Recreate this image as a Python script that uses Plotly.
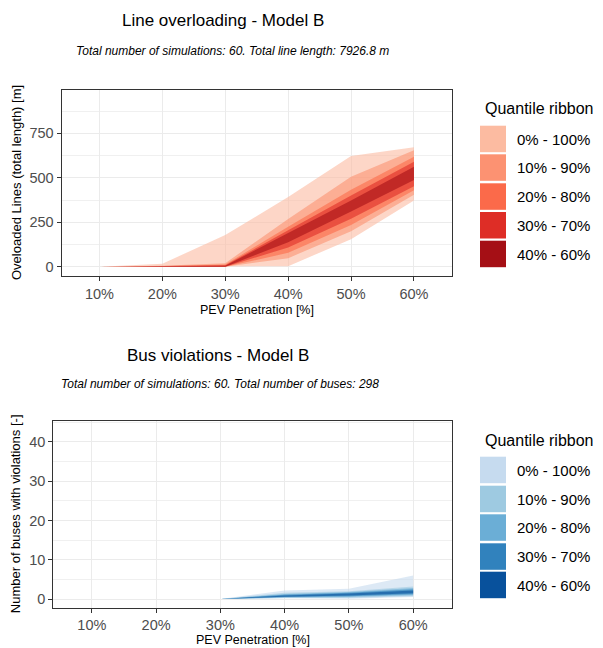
import plotly.graph_objects as go

# page body has an 8px default margin; design coordinates below are page pixels
OFF = 8
W, H = 603 - OFF, 648 - OFF

# ---------------- data ----------------
categories = ["10%", "20%", "30%", "40%", "50%", "60%"]
quantile_labels = ["0% - 100%", "10% - 90%", "20% - 80%", "30% - 70%", "40% - 60%"]

# Line overloading (total length, m) - quantile ribbons
line_lo_0_100 = [0, 0, 0, 3, 155, 372]
line_hi_0_100 = [0, 17, 178, 392, 622, 671]
line_lo_10_90 = [0, 0, 0, 48, 200, 405]
line_hi_10_90 = [0, 6, 20, 268, 505, 655]
line_lo_20_80 = [0, 0, 0, 78, 235, 430]
line_hi_20_80 = [0, 3, 12, 225, 432, 618]
line_lo_30_70 = [0, 0, 0, 108, 270, 452]
line_hi_30_70 = [0, 2, 8, 205, 400, 590]
line_lo_40_60 = [0, 0, 0, 138, 310, 487]
line_hi_40_60 = [0, 1, 5, 190, 372, 562]

# Bus violations (number of buses) - quantile ribbons
bus_lo_0_100 = [0, 0, 0, 0.2, 0.1, 0.5]
bus_hi_0_100 = [0, 0, 0, 2.2, 2.6, 6.0]
bus_lo_10_90 = [0, 0, 0, 0.3, 0.3, 0.7]
bus_hi_10_90 = [0, 0, 0, 1.6, 2.0, 3.2]
bus_lo_20_80 = [0, 0, 0, 0.4, 0.5, 1.0]
bus_hi_20_80 = [0, 0, 0, 1.3, 1.8, 2.8]
bus_lo_30_70 = [0, 0, 0, 0.5, 0.7, 1.2]
bus_hi_30_70 = [0, 0, 0, 1.1, 1.6, 2.5]
bus_lo_40_60 = [0, 0, 0, 0.6, 0.9, 1.5]
bus_hi_40_60 = [0, 0, 0, 0.9, 1.4, 2.2]

line_bands = [(line_lo_0_100, line_hi_0_100), (line_lo_10_90, line_hi_10_90),
              (line_lo_20_80, line_hi_20_80), (line_lo_30_70, line_hi_30_70),
              (line_lo_40_60, line_hi_40_60)]
bus_bands = [(bus_lo_0_100, bus_hi_0_100), (bus_lo_10_90, bus_hi_10_90),
             (bus_lo_20_80, bus_hi_20_80), (bus_lo_30_70, bus_hi_30_70),
             (bus_lo_40_60, bus_hi_40_60)]

reds = ["#FCBBA1", "#FC9272", "#FB6A4A", "#DE2D26", "#A50F15"]
blues = ["#C6DBEF", "#9ECAE1", "#6BAED6", "#3182BD", "#08519C"]
ALPHA = 0.6
FONT = "Liberation Sans, Arial, sans-serif"


def rgba(hexc, a):
    h = hexc.lstrip("#")
    r, g, b = int(h[0:2], 16), int(h[2:4], 16), int(h[4:6], 16)
    return f"rgba({r},{g},{b},{a})"


def px(xp):
    return (xp - OFF) / W


def py(yp):
    return 1 - (yp - OFF) / H


fig = go.Figure()

for bands, cols, xa, ya in [(line_bands, reds, "x", "y"), (bus_bands, blues, "x2", "y2")]:
    for (lo, hi), c in zip(bands, cols):
        fig.add_trace(go.Scatter(x=categories, y=lo, mode="lines", line=dict(width=0),
                                 hoverinfo="skip", showlegend=False, xaxis=xa, yaxis=ya))
        fig.add_trace(go.Scatter(x=categories, y=hi, mode="lines", line=dict(width=0),
                                 fill="tonexty", fillcolor=rgba(c, ALPHA),
                                 hoverinfo="skip", showlegend=False, xaxis=xa, yaxis=ya))

axis_common = dict(showline=True, mirror=True, linecolor="#333333", linewidth=1.2,
                   ticks="outside", ticklen=4, tickcolor="#333333", tickwidth=1,
                   tickfont=dict(family=FONT, size=14.5, color="#4D4D4D"),
                   showgrid=True, gridcolor="#EBEBEB", gridwidth=1, zeroline=False,
                   fixedrange=True)

# panel pixel boxes (page pixels)
top_box = (61.7, 451.7, 90, 276)
bot_box = (53.3, 451.7, 420.7, 607.7)

fig.update_layout(
    width=W, height=H, margin=dict(l=0, r=0, t=0, b=0),
    paper_bgcolor="white", plot_bgcolor="white", showlegend=False,
    xaxis=dict(domain=[px(top_box[0]), px(top_box[1])], anchor="y", type="category",
               range=[-0.6, 5.6], **axis_common),
    yaxis=dict(domain=[py(top_box[3]), py(top_box[2])], anchor="x",
               range=[-52, 993], tick0=0, dtick=250,
               minor=dict(dtick=125, tick0=0, showgrid=True, gridcolor="#F0F0F0", gridwidth=1, ticks=""),
               **axis_common),
    xaxis2=dict(domain=[px(bot_box[0]), px(bot_box[1])], anchor="y2", type="category",
                range=[-0.6, 5.6], **axis_common),
    yaxis2=dict(domain=[py(bot_box[3]), py(bot_box[2])], anchor="x2",
                range=[-2.2, 45.4], tick0=0, dtick=10,
                minor=dict(dtick=5, tick0=0, showgrid=True, gridcolor="#F0F0F0", gridwidth=1, ticks=""),
                **axis_common),
)

ann = []


def text(x, y, s, size, color="black", italic=False, angle=0, xanchor="center"):
    ann.append(dict(x=px(x), y=py(y), xref="paper", yref="paper", text=s, showarrow=False,
                    xanchor=xanchor, yanchor="middle", textangle=angle,
                    font=dict(family=FONT, size=size, color=color,
                              style="italic" if italic else "normal")))


# titles
text(223, 21, "Line overloading - Model B", 17)
text(232, 51, "Total number of simulations: 60. Total line length: 7926.8 m", 12, italic=True)
text(218, 355, "Bus violations - Model B", 17)
text(220, 384, "Total number of simulations: 60. Total number of buses: 298", 12, italic=True)

# axis titles
text((top_box[0] + top_box[1]) / 2, 310, "PEV Penetration [%]", 12.5)
text(16, (top_box[2] + top_box[3]) / 2, "Oveloaded Lines (total length) [m]", 13, angle=-90)
text((bot_box[0] + bot_box[1]) / 2, 640, "PEV Penetration [%]", 12.5)
text(15, (bot_box[2] + bot_box[3]) / 2, "Number of buses with violations [-]", 13, angle=-90)

shapes = []
# legends
for cols, title_y, key_tops in [(reds, 108, [125.7, 154.3, 183.3, 212.0, 240.7]),
                                (blues, 440, [456.7, 485.7, 514.3, 543.3, 571.7])]:
    text(483, title_y, "Quantile ribbon", 16, xanchor="left")
    for c, lab, kt in zip(cols, quantile_labels, key_tops):
        shapes.append(dict(type="rect", xref="paper", yref="paper",
                           x0=px(480), x1=px(506), y0=py(kt + 26.5), y1=py(kt),
                           fillcolor=c, line=dict(width=0)))
        text(515, kt + 13.5, lab, 15, xanchor="left")

fig.update_layout(annotations=ann, shapes=shapes)
fig.write_html("out.html")
